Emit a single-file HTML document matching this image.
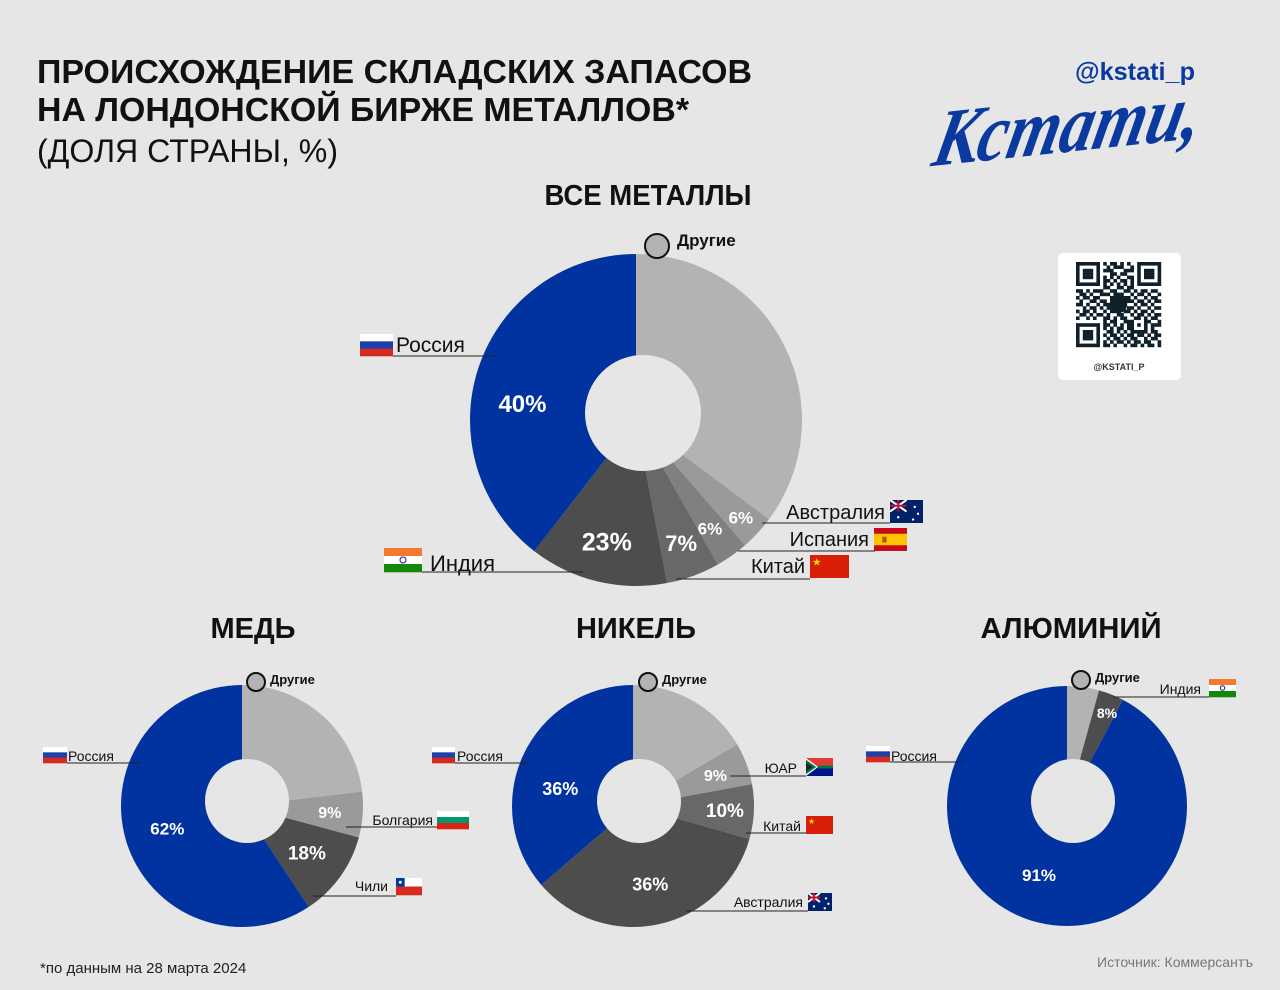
<!DOCTYPE html>
<html><head><meta charset="utf-8"><style>
html,body{margin:0;padding:0;background:#e6e6e6;}
svg{display:block;font-family:"Liberation Sans Narrow","Liberation Sans",sans-serif;}
</style></head><body>
<svg id="chart" width="1280" height="990" viewBox="0 0 1280 990" xmlns="http://www.w3.org/2000/svg">
<rect width="1280" height="990" fill="#e6e6e6"/>
<g fill="#111">
<text x="37" y="83" font-size="33" font-weight="bold" textLength="715" lengthAdjust="spacingAndGlyphs">ПРОИСХОЖДЕНИЕ СКЛАДСКИХ ЗАПАСОВ</text>
<text x="37" y="121" font-size="33" font-weight="bold" textLength="652" lengthAdjust="spacingAndGlyphs">НА ЛОНДОНСКОЙ БИРЖЕ МЕТАЛЛОВ*</text>
<text x="37" y="162" font-size="32" textLength="301" lengthAdjust="spacingAndGlyphs">(ДОЛЯ СТРАНЫ, %)</text>
</g>
<text x="1075" y="80" font-size="25" font-weight="bold" fill="#0a3aa0" textLength="120" lengthAdjust="spacingAndGlyphs">@kstati_p</text>
<g transform="translate(1064 130) rotate(-6) skewX(-18)">
<text x="-130" y="22" font-size="80" font-weight="bold" font-style="italic" fill="#0a3aa0" font-family="Liberation Serif, serif" textLength="268" lengthAdjust="spacingAndGlyphs">Кстати,</text>
</g>
<g>
<rect x="1058" y="253" width="123" height="127" rx="5" fill="#fff"/>
<g id="qr" fill="#10202a"></g>
<text x="1119" y="370" font-size="9" font-weight="bold" text-anchor="middle" fill="#333" font-family="Liberation Sans, sans-serif">@KSTATI_P</text>
</g>
<g font-weight="bold" fill="#111">
<text x="648" y="205" font-size="29" text-anchor="middle" textLength="207" lengthAdjust="spacingAndGlyphs">ВСЕ МЕТАЛЛЫ</text>
<text x="253" y="638" font-size="29" text-anchor="middle" textLength="85" lengthAdjust="spacingAndGlyphs">МЕДЬ</text>
<text x="636" y="638" font-size="29" text-anchor="middle" textLength="120" lengthAdjust="spacingAndGlyphs">НИКЕЛЬ</text>
<text x="1071" y="638" font-size="29" text-anchor="middle" textLength="181" lengthAdjust="spacingAndGlyphs">АЛЮМИНИЙ</text>
</g>
<g id="charts"></g>
<g id="labels" font-family="Liberation Sans Narrow, Liberation Sans, sans-serif"></g>
<text x="40" y="973" font-size="15" fill="#222">*по данным на 28 марта 2024</text>
<text x="1253" y="967" font-size="14" fill="#777" text-anchor="end">Источник: Коммерсантъ</text>
</svg>
<script>
// Data (visual slice shares, %; printed labels)
const mainCats = ["Другие","Австралия","Испания","Китай","Индия","Россия"];
const mainShares = [35.2,3.4,3.2,5.2,13.5,39.5];
const mainLabels = ["","6%","6%","7%","23%","40%"];
const copperCats = ["Другие","Болгария","Чили","Россия"];
const copperShares = [23.1,6.1,11.5,59.3];
const copperLabels = ["","9%","18%","62%"];
const nickelCats = ["Другие","ЮАР","Китай","Австралия","Россия"];
const nickelShares = [16.5,5.6,7.3,34.3,36.3];
const nickelLabels = ["","9%","10%","36%","36%"];
const aluCats = ["Другие","Индия","Россия"];
const aluShares = [4.3,3.4,92.3];
const aluLabels = ["","8%","91%"];

const NS="http://www.w3.org/2000/svg";
function mk(tag,attrs,parent){const e=document.createElementNS(NS,tag);for(const k in attrs)e.setAttribute(k,attrs[k]);parent.appendChild(e);return e;}
const chartsG=document.getElementById('charts');
function angleScale(shares){const tot=shares.reduce((a,b)=>a+b,0);return v=>v/tot*2*Math.PI;}
function pt(cx,cy,r,a){return [cx+r*Math.sin(a),cy-r*Math.cos(a)];}
function donut(name,cats,shares,labels,colors,cx,cy,r,hx,hy,hr,lr,fs,dy){
  const g=mk('g',{},chartsG);
  
  
  const sc=angleScale(shares);let a0=0;
  shares.forEach((v,i)=>{
    const a1=a0+sc(v);
    const [x0,y0]=pt(cx,cy,r,a0),[x1,y1]=pt(cx,cy,r,a1);
    const large=(a1-a0)>Math.PI?1:0;
    const p=mk('path',{d:`M${cx},${cy}L${x0},${y0}A${r},${r} 0 ${large} 1 ${x1},${y1}Z`,fill:colors[i]},g);
    
    
    if(labels[i]){
      const m=(a0+a1)/2;const [lx,ly]=pt(cx,cy,lr[i],m);
      const t=mk('text',{x:lx,y:ly+fs[i]*0.36+(dy?dy[i]:0),'text-anchor':'middle','font-size':fs[i],'font-weight':'bold',fill:'#fff','font-family':'Liberation Sans, sans-serif'},g);
      t.textContent=labels[i];
      
      
    }
    a0=a1;
  });
  const h=mk('circle',{cx:hx,cy:hy,r:hr,fill:'#e6e6e6'},g);
  
  
}
donut('all-metals',mainCats,mainShares,mainLabels,['#b3b3b3','#9a9a9a','#808080','#686868','#4d4d4d','#0033a0'],636,420,166,643,413,58,[0,143,128,131,125,120],[0,17,17,22,25,24],[0,0,4,0,0,22]);
donut('copper',copperCats,copperShares,copperLabels,['#b3b3b3','#9a9a9a','#4d4d4d','#0033a0'],242,806,121,247,801,42,[0,88,80,78],[0,16,19,17]);
donut('nickel',nickelCats,nickelShares,nickelLabels,['#b3b3b3','#9a9a9a','#686868','#4d4d4d','#0033a0'],633,806,121,639,801,42,[0,88,92,80,80],[0,16,19,18,18],[0,0,0,0,16]);
donut('aluminium',aluCats,aluShares,aluLabels,['#b3b3b3','#4d4d4d','#0033a0'],1067,806,120,1073,801,42,[0,0,0],[0,0,0]);
(function(){const g=chartsG;
 const t1=mk('text',{x:1107,y:718,'text-anchor':'middle','font-size':14,'font-weight':'bold',fill:'#fff','font-family':'Liberation Sans, sans-serif'},g);t1.textContent=aluLabels[1];
 
 
 const t2=mk('text',{x:1039,y:881,'text-anchor':'middle','font-size':17,'font-weight':'bold',fill:'#fff','font-family':'Liberation Sans, sans-serif'},g);t2.textContent=aluLabels[2];
 
 
})();

const L=document.getElementById('labels');
function flag(type,x,y,w,h){
  const g=mk('g',{},L);
  
  
  const s=(c,i,n)=>mk('rect',{x:x,y:y+h*i/n,width:w,height:h/n+0.3,fill:c},g);
  if(type==='ru'){s('#fff',0,3);s('#1c3fa8',1,3);s('#d52b1e',2,3);}
  else if(type==='in'){s('#f47a30',0,3);s('#fff',1,3);s('#138808',2,3);mk('circle',{cx:x+w/2,cy:y+h/2,r:h/8,fill:'none',stroke:'#0a1f8f','stroke-width':1},g);}
  else if(type==='bg'){s('#fff',0,3);s('#00966e',1,3);s('#d62612',2,3);}
  else if(type==='cn'){mk('rect',{x:x,y:y,width:w,height:h,fill:'#d81e06'},g);mk('text',{x:x+2,y:y+h*0.45,'font-size':h*0.45,fill:'#ffde00'},g).textContent='★';}
  else if(type==='es'){mk('rect',{x:x,y:y,width:w,height:h,fill:'#c60b1e'},g);mk('rect',{x:x,y:y+h/4,width:w,height:h/2,fill:'#ffc400'},g);mk('rect',{x:x+w*0.25,y:y+h*0.38,width:w*0.13,height:h*0.25,fill:'#b5531b'},g);}
  else if(type==='au'){mk('rect',{x:x,y:y,width:w,height:h,fill:'#012169'},g);mk('path',{d:`M${x},${y}L${x+w/2},${y+h/2}M${x+w/2},${y}L${x},${y+h/2}`,stroke:'#fff','stroke-width':2},g);mk('path',{d:`M${x+w/4},${y}V${y+h/2}M${x},${y+h/4}H${x+w/2}`,stroke:'#c8102e','stroke-width':2},g);[[0.25,0.75],[0.75,0.3],[0.85,0.6],[0.7,0.85]].forEach(p=>mk('circle',{cx:x+w*p[0],cy:y+h*p[1],r:1.2,fill:'#fff'},g));}
  else if(type==='cl'){s('#fff',0,2);s('#d52b1e',1,2);mk('rect',{x:x,y:y,width:w/3,height:h/2,fill:'#0039a6'},g);mk('circle',{cx:x+w/6,cy:y+h/4,r:1.5,fill:'#fff'},g);}
  else if(type==='za'){mk('rect',{x:x,y:y,width:w,height:h/2,fill:'#e03c31'},g);mk('rect',{x:x,y:y+h/2,width:w,height:h/2,fill:'#001489'},g);mk('path',{d:`M${x},${y}L${x+w*0.45},${y+h/2}L${x},${y+h}Z`,fill:'#fff'},g);mk('path',{d:`M${x},${y+h*0.1}L${x+w*0.38},${y+h/2}L${x},${y+h*0.9}Z`,fill:'#007749'},g);mk('path',{d:`M${x},${y+h*0.25}L${x+w*0.25},${y+h/2}L${x},${y+h*0.75}Z`,fill:'#222'},g);mk('rect',{x:x+w*0.45,y:y+h*0.42,width:w*0.55,height:h*0.16,fill:'#007749'},g);}
}
function lbl(text,x,y,size,anchor,name,weight){
  const t=mk('text',{x:x,y:y,'font-size':size,'text-anchor':anchor||'start',fill:'#111','font-weight':weight||'normal'},L);
  t.textContent=text;
  
  
}
function line(x1,x2,y){const l=mk('line',{x1:x1,x2:x2,y1:y,y2:y,stroke:'#222','stroke-width':1},L);
  
  }
function others(cx,cy,r,tx,ty,fs,name){
  const c=mk('circle',{cx:cx,cy:cy,r:r,fill:'#b3b3b3',stroke:'#111','stroke-width':2},L);
  
  
  lbl('Другие',tx,ty,fs,'start',name+'-label','bold');
}
flag('ru',360,334,33,22);lbl('Россия',396,352,21,'start','all-russia-label');line(393,495,356);
others(657,246,12,677,246,17,'all-others');
flag('au',890,500,33,23);lbl('Австралия',885,519,20,'end','all-australia-label');line(762,890,523);
flag('es',874,528,33,23);lbl('Испания',869,546,20,'end','all-spain-label');line(738,875,551);
flag('cn',810,555,39,23);lbl('Китай',805,573,20,'end','all-china-label');line(676,810,579);
flag('in',384,548,38,24);lbl('Индия',430,571,22,'start','all-india-label');line(422,583,572);
flag('ru',43,747,24,16);lbl('Россия',68,761,14,'start','copper-russia-label');line(67,140,763);
others(256,682,9,270,684,13,'copper-others');
flag('bg',437,811,32,18);lbl('Болгария',433,825,14,'end','copper-bulgaria-label');line(346,437,827);
flag('cl',396,878,26,17);lbl('Чили',388,891,14,'end','copper-chile-label');line(313,396,896);
flag('ru',432,747,23,16);lbl('Россия',457,761,14,'start','nickel-russia-label');line(455,530,763);
others(648,682,9,662,684,13,'nickel-others');
flag('za',806,758,27,18);lbl('ЮАР',797,773,14,'end','nickel-sa-label');line(730,806,776);
flag('cn',806,816,27,18);lbl('Китай',801,831,14,'end','nickel-china-label');line(746,806,833);
flag('au',808,893,24,18);lbl('Австралия',803,907,14,'end','nickel-australia-label');line(686,808,911);
flag('ru',866,746,24,16);lbl('Россия',891,761,14,'start','alu-russia-label');line(890,965,762);
others(1081,680,9,1095,682,13,'alu-others');
flag('in',1209,679,27,18);lbl('Индия',1201,694,14,'end','alu-india-label');line(1113,1209,697);

(function(){const q=document.getElementById('qr');const x0=1076,y0=262,m=3.4;
 const rows=["1111111010110101001111111","1000001001011100101000001","1011101011100011101011101","1011101000110110001011101","1011101010101001101011101","1000001011010110101000001","1111111010101010101111111","0000000011001101100000000","1101011100110011010110110","0110100111011100101101001","1011011000111111010010110","0100110110111011101101011","1101001011110110010110100","0010110101101101101001011","1011010010111011010110100","0110101101001100101101011","1001010011010110011010110","0000000010110011100011001","1111111011010101101010111","1000001010101101100010100","1011101001101010111110110","1011101010110101101101011","1011101001011010110010110","1000001010101101011011001","1111111011010010110101101"];
 rows.forEach((r,yy)=>{for(let xx=0;xx<r.length;xx++){if(r[xx]==='1')mk('rect',{x:x0+xx*m,y:y0+yy*m,width:m+0.2,height:m+0.2},q);}});
 mk('circle',{cx:1119,cy:305,r:8,fill:'#10202a'},q);
})();
</script>
</body></html>
